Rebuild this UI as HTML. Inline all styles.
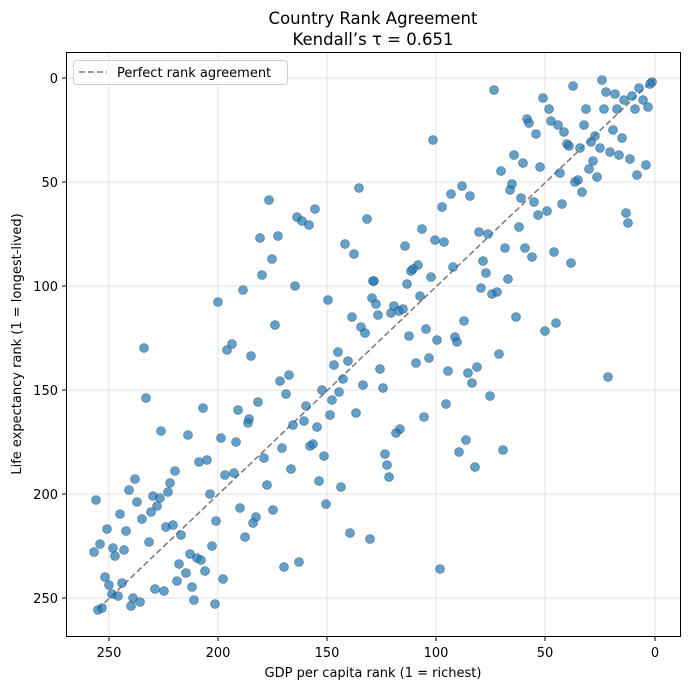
<!DOCTYPE html>
<html><head><meta charset="utf-8"><style>
body{margin:0;background:#fff;}
svg{display:block;font-family:"DejaVu Sans","Liberation Sans",sans-serif;}
</style></head><body>
<svg width="690" height="690" xmlns="http://www.w3.org/2000/svg">
<rect width="690" height="690" fill="#fff"/>
<text x="373" y="24" font-size="16.5" text-anchor="middle" fill="#000">Country Rank Agreement</text>
<text x="373" y="45" font-size="16.5" text-anchor="middle" fill="#000">Kendall’s τ = 0.651</text>
<g stroke="#e3e3e3" stroke-width="1">
<line x1="109" y1="52" x2="109" y2="637"/><line x1="218" y1="52" x2="218" y2="637"/><line x1="327" y1="52" x2="327" y2="637"/><line x1="436" y1="52" x2="436" y2="637"/><line x1="545" y1="52" x2="545" y2="637"/><line x1="655" y1="52" x2="655" y2="637"/>
<line x1="66" y1="78" x2="681" y2="78"/><line x1="66" y1="182" x2="681" y2="182"/><line x1="66" y1="286" x2="681" y2="286"/><line x1="66" y1="390" x2="681" y2="390"/><line x1="66" y1="494" x2="681" y2="494"/><line x1="66" y1="598" x2="681" y2="598"/>
</g>
<line x1="98" y1="609" x2="654" y2="79" stroke="#7f7f7f" stroke-width="1.6" stroke-dasharray="6,3"/>
<g fill="#1f77b4" fill-opacity="0.7" stroke="#1a3550" stroke-opacity="0.6" stroke-width="0.6">
<circle cx="269" cy="200" r="4.5"/><circle cx="359" cy="188" r="4.5"/><circle cx="297" cy="217" r="4.5"/><circle cx="302" cy="221" r="4.5"/><circle cx="309" cy="225" r="4.5"/><circle cx="315" cy="209" r="4.5"/><circle cx="367" cy="219" r="4.5"/><circle cx="260" cy="238" r="4.5"/><circle cx="278" cy="236" r="4.5"/><circle cx="345" cy="244" r="4.5"/><circle cx="354" cy="254" r="4.5"/><circle cx="272" cy="259" r="4.5"/><circle cx="262" cy="275" r="4.5"/><circle cx="243" cy="290" r="4.5"/><circle cx="218" cy="302" r="4.5"/><circle cx="295" cy="286" r="4.5"/><circle cx="328" cy="300" r="4.5"/><circle cx="373" cy="281" r="4.5"/><circle cx="372" cy="298" r="4.5"/><circle cx="352" cy="317" r="4.5"/><circle cx="275" cy="325" r="4.5"/><circle cx="361" cy="327" r="4.5"/><circle cx="365" cy="333" r="4.5"/>
<circle cx="494" cy="90" r="4.5"/><circle cx="433" cy="140" r="4.5"/><circle cx="573" cy="86" r="4.5"/><circle cx="602" cy="80" r="4.5"/><circle cx="606" cy="92" r="4.5"/><circle cx="615" cy="94" r="4.5"/><circle cx="624" cy="100" r="4.5"/><circle cx="632" cy="96" r="4.5"/><circle cx="639" cy="88" r="4.5"/><circle cx="643" cy="100" r="4.5"/><circle cx="652" cy="82" r="4.5"/><circle cx="650" cy="84" r="4.5"/><circle cx="635" cy="109" r="4.5"/><circle cx="648" cy="107" r="4.5"/><circle cx="617" cy="109" r="4.5"/><circle cx="604" cy="109" r="4.5"/><circle cx="586" cy="109" r="4.5"/><circle cx="543" cy="98" r="4.5"/><circle cx="549" cy="109" r="4.5"/><circle cx="527" cy="119" r="4.5"/><circle cx="529" cy="123" r="4.5"/><circle cx="551" cy="121" r="4.5"/><circle cx="558" cy="125" r="4.5"/><circle cx="564" cy="132" r="4.5"/><circle cx="536" cy="134" r="4.5"/><circle cx="584" cy="125" r="4.5"/><circle cx="613" cy="130" r="4.5"/><circle cx="622" cy="138" r="4.5"/><circle cx="595" cy="136" r="4.5"/><circle cx="591" cy="142" r="4.5"/><circle cx="567" cy="144" r="4.5"/><circle cx="569" cy="146" r="4.5"/><circle cx="580" cy="148" r="4.5"/><circle cx="600" cy="148" r="4.5"/><circle cx="610" cy="152" r="4.5"/><circle cx="619" cy="155" r="4.5"/><circle cx="630" cy="159" r="4.5"/><circle cx="646" cy="165" r="4.5"/><circle cx="637" cy="175" r="4.5"/><circle cx="593" cy="161" r="4.5"/><circle cx="589" cy="169" r="4.5"/><circle cx="597" cy="177" r="4.5"/><circle cx="578" cy="180" r="4.5"/><circle cx="575" cy="182" r="4.5"/><circle cx="582" cy="192" r="4.5"/><circle cx="560" cy="173" r="4.5"/><circle cx="540" cy="167" r="4.5"/><circle cx="523" cy="163" r="4.5"/><circle cx="514" cy="155" r="4.5"/><circle cx="501" cy="171" r="4.5"/><circle cx="512" cy="184" r="4.5"/><circle cx="510" cy="190" r="4.5"/><circle cx="521" cy="198" r="4.5"/><circle cx="534" cy="202" r="4.5"/><circle cx="538" cy="215" r="4.5"/><circle cx="547" cy="211" r="4.5"/><circle cx="562" cy="204" r="4.5"/><circle cx="626" cy="213" r="4.5"/><circle cx="628" cy="223" r="4.5"/><circle cx="519" cy="227" r="4.5"/><circle cx="488" cy="234" r="4.5"/><circle cx="479" cy="232" r="4.5"/><circle cx="462" cy="186" r="4.5"/><circle cx="451" cy="194" r="4.5"/><circle cx="470" cy="196" r="4.5"/><circle cx="442" cy="207" r="4.5"/><circle cx="422" cy="229" r="4.5"/><circle cx="435" cy="240" r="4.5"/><circle cx="444" cy="242" r="4.5"/><circle cx="405" cy="246" r="4.5"/><circle cx="418" cy="265" r="4.5"/><circle cx="413" cy="269" r="4.5"/><circle cx="411" cy="271" r="4.5"/><circle cx="431" cy="277" r="4.5"/><circle cx="453" cy="267" r="4.5"/><circle cx="505" cy="248" r="4.5"/><circle cx="525" cy="248" r="4.5"/><circle cx="532" cy="257" r="4.5"/><circle cx="554" cy="252" r="4.5"/><circle cx="571" cy="263" r="4.5"/><circle cx="483" cy="261" r="4.5"/><circle cx="486" cy="273" r="4.5"/><circle cx="508" cy="279" r="4.5"/><circle cx="481" cy="288" r="4.5"/><circle cx="492" cy="294" r="4.5"/><circle cx="497" cy="292" r="4.5"/><circle cx="374" cy="281" r="4.5"/><circle cx="407" cy="284" r="4.5"/><circle cx="420" cy="296" r="4.5"/><circle cx="376" cy="304" r="4.5"/><circle cx="378" cy="315" r="4.5"/><circle cx="391" cy="313" r="4.5"/><circle cx="394" cy="306" r="4.5"/><circle cx="399" cy="311" r="4.5"/><circle cx="403" cy="309" r="4.5"/><circle cx="426" cy="329" r="4.5"/><circle cx="409" cy="336" r="4.5"/><circle cx="437" cy="340" r="4.5"/><circle cx="455" cy="337" r="4.5"/><circle cx="457" cy="342" r="4.5"/><circle cx="464" cy="321" r="4.5"/><circle cx="516" cy="317" r="4.5"/><circle cx="545" cy="331" r="4.5"/><circle cx="556" cy="323" r="4.5"/>
<circle cx="144" cy="348" r="4.5"/><circle cx="232" cy="344" r="4.5"/><circle cx="227" cy="350" r="4.5"/><circle cx="251" cy="356" r="4.5"/><circle cx="146" cy="398" r="4.5"/><circle cx="203" cy="408" r="4.5"/><circle cx="161" cy="431" r="4.5"/><circle cx="188" cy="435" r="4.5"/><circle cx="221" cy="438" r="4.5"/><circle cx="236" cy="442" r="4.5"/><circle cx="238" cy="410" r="4.5"/><circle cx="249" cy="419" r="4.5"/><circle cx="248" cy="423" r="4.5"/><circle cx="258" cy="402" r="4.5"/><circle cx="280" cy="381" r="4.5"/><circle cx="289" cy="375" r="4.5"/><circle cx="286" cy="394" r="4.5"/><circle cx="338" cy="352" r="4.5"/><circle cx="334" cy="365" r="4.5"/><circle cx="348" cy="361" r="4.5"/><circle cx="343" cy="379" r="4.5"/><circle cx="363" cy="385" r="4.5"/><circle cx="339" cy="392" r="4.5"/><circle cx="322" cy="390" r="4.5"/><circle cx="332" cy="400" r="4.5"/><circle cx="306" cy="406" r="4.5"/><circle cx="330" cy="415" r="4.5"/><circle cx="356" cy="413" r="4.5"/><circle cx="304" cy="421" r="4.5"/><circle cx="293" cy="425" r="4.5"/><circle cx="317" cy="427" r="4.5"/><circle cx="282" cy="448" r="4.5"/><circle cx="264" cy="458" r="4.5"/><circle cx="310" cy="446" r="4.5"/><circle cx="313" cy="444" r="4.5"/><circle cx="324" cy="456" r="4.5"/><circle cx="291" cy="469" r="4.5"/><circle cx="319" cy="481" r="4.5"/><circle cx="341" cy="487" r="4.5"/><circle cx="326" cy="504" r="4.5"/><circle cx="267" cy="485" r="4.5"/><circle cx="273" cy="510" r="4.5"/><circle cx="256" cy="517" r="4.5"/><circle cx="253" cy="523" r="4.5"/><circle cx="240" cy="508" r="4.5"/><circle cx="225" cy="475" r="4.5"/><circle cx="234" cy="473" r="4.5"/><circle cx="210" cy="494" r="4.5"/><circle cx="216" cy="521" r="4.5"/><circle cx="245" cy="537" r="4.5"/><circle cx="212" cy="546" r="4.5"/><circle cx="199" cy="462" r="4.5"/><circle cx="207" cy="460" r="4.5"/><circle cx="175" cy="471" r="4.5"/><circle cx="170" cy="483" r="4.5"/><circle cx="168" cy="492" r="4.5"/><circle cx="153" cy="496" r="4.5"/><circle cx="160" cy="498" r="4.5"/><circle cx="157" cy="506" r="4.5"/><circle cx="151" cy="512" r="4.5"/><circle cx="135" cy="479" r="4.5"/><circle cx="129" cy="490" r="4.5"/><circle cx="137" cy="502" r="4.5"/><circle cx="142" cy="519" r="4.5"/><circle cx="120" cy="514" r="4.5"/><circle cx="107" cy="529" r="4.5"/><circle cx="126" cy="531" r="4.5"/><circle cx="96" cy="500" r="4.5"/><circle cx="100" cy="544" r="4.5"/><circle cx="94" cy="552" r="4.5"/><circle cx="113" cy="548" r="4.5"/><circle cx="115" cy="556" r="4.5"/><circle cx="124" cy="550" r="4.5"/><circle cx="149" cy="542" r="4.5"/><circle cx="166" cy="527" r="4.5"/><circle cx="173" cy="525" r="4.5"/><circle cx="181" cy="535" r="4.5"/><circle cx="190" cy="554" r="4.5"/><circle cx="197" cy="558" r="4.5"/><circle cx="201" cy="560" r="4.5"/><circle cx="179" cy="564" r="4.5"/><circle cx="186" cy="573" r="4.5"/><circle cx="205" cy="571" r="4.5"/><circle cx="177" cy="581" r="4.5"/><circle cx="192" cy="587" r="4.5"/><circle cx="194" cy="600" r="4.5"/><circle cx="215" cy="604" r="4.5"/><circle cx="223" cy="579" r="4.5"/><circle cx="155" cy="589" r="4.5"/><circle cx="164" cy="591" r="4.5"/><circle cx="105" cy="577" r="4.5"/><circle cx="109" cy="585" r="4.5"/><circle cx="122" cy="583" r="4.5"/><circle cx="112" cy="594" r="4.5"/><circle cx="118" cy="596" r="4.5"/><circle cx="133" cy="598" r="4.5"/><circle cx="131" cy="606" r="4.5"/><circle cx="140" cy="602" r="4.5"/><circle cx="98" cy="610" r="4.5"/><circle cx="102" cy="608" r="4.5"/><circle cx="284" cy="567" r="4.5"/><circle cx="299" cy="562" r="4.5"/><circle cx="350" cy="533" r="4.5"/><circle cx="370" cy="539" r="4.5"/>
<circle cx="499" cy="354" r="4.5"/><circle cx="380" cy="369" r="4.5"/><circle cx="416" cy="363" r="4.5"/><circle cx="429" cy="358" r="4.5"/><circle cx="448" cy="371" r="4.5"/><circle cx="468" cy="373" r="4.5"/><circle cx="477" cy="367" r="4.5"/><circle cx="472" cy="383" r="4.5"/><circle cx="383" cy="388" r="4.5"/><circle cx="490" cy="396" r="4.5"/><circle cx="446" cy="404" r="4.5"/><circle cx="424" cy="417" r="4.5"/><circle cx="400" cy="429" r="4.5"/><circle cx="396" cy="433" r="4.5"/><circle cx="466" cy="440" r="4.5"/><circle cx="459" cy="452" r="4.5"/><circle cx="503" cy="450" r="4.5"/><circle cx="475" cy="467" r="4.5"/><circle cx="385" cy="454" r="4.5"/><circle cx="387" cy="465" r="4.5"/><circle cx="389" cy="477" r="4.5"/><circle cx="608" cy="377" r="4.5"/><circle cx="440" cy="569" r="4.5"/>
</g>
<rect x="66.5" y="52.5" width="614" height="584" fill="none" stroke="#000" stroke-width="1"/>
<g stroke="#000" stroke-width="1">
<line x1="109" y1="637" x2="109" y2="641"/><line x1="218" y1="637" x2="218" y2="641"/><line x1="327" y1="637" x2="327" y2="641"/><line x1="436" y1="637" x2="436" y2="641"/><line x1="545" y1="637" x2="545" y2="641"/><line x1="655" y1="637" x2="655" y2="641"/>
<line x1="62" y1="78" x2="66" y2="78"/><line x1="62" y1="182" x2="66" y2="182"/><line x1="62" y1="286" x2="66" y2="286"/><line x1="62" y1="390" x2="66" y2="390"/><line x1="62" y1="494" x2="66" y2="494"/><line x1="62" y1="598" x2="66" y2="598"/>
</g>
<g font-size="13" fill="#000" text-anchor="middle">
<text x="109" y="657">250</text><text x="218" y="657">200</text><text x="327" y="657">150</text><text x="436" y="657">100</text><text x="545" y="657">50</text><text x="655" y="657">0</text>
</g>
<g font-size="13" fill="#000" text-anchor="end">
<text x="58" y="83">0</text><text x="58" y="187">50</text><text x="58" y="291">100</text><text x="58" y="395">150</text><text x="58" y="499">200</text><text x="58" y="603">250</text>
</g>
<text x="373" y="677" font-size="13" text-anchor="middle">GDP per capita rank (1 = richest)</text>
<text transform="translate(21,344) rotate(-90)" font-size="13" text-anchor="middle">Life expectancy rank (1 = longest-lived)</text>
<rect x="73.5" y="60.5" width="214" height="24" rx="3" fill="#fff" fill-opacity="0.85" stroke="#d0d0d0"/>
<line x1="79" y1="72" x2="107" y2="72" stroke="#7f7f7f" stroke-width="1.6" stroke-dasharray="6,3"/>
<text x="117" y="77" font-size="13" fill="#000">Perfect rank agreement</text>
</svg>
</body></html>
